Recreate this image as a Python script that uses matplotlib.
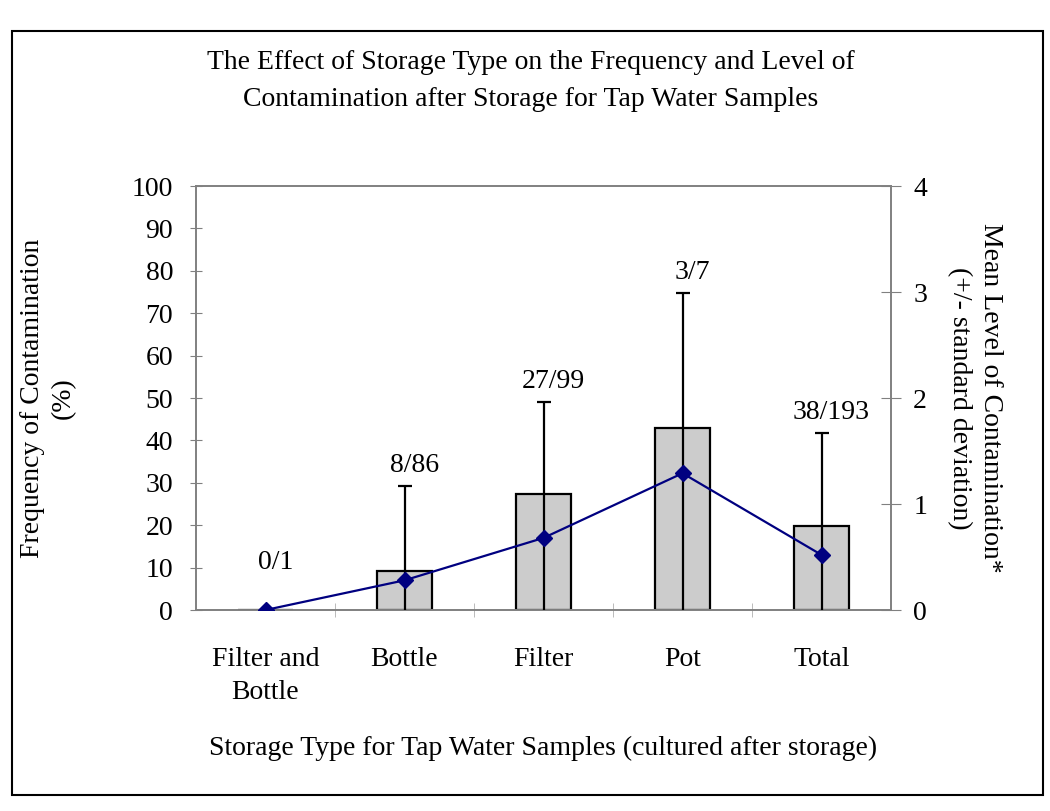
import matplotlib
matplotlib.use("Agg")
import matplotlib.pyplot as plt
from matplotlib.patches import Rectangle

plt.rcParams["font.family"] = ["Liberation Serif", "DejaVu Serif"]

# data
categories = ["Filter and\nBottle", "Bottle", "Filter", "Pot", "Total"]
frequency = [0.0, 9.3, 27.3, 42.9, 19.7]          # % contaminated (left axis)
mean_level = [0.0, 0.28, 0.68, 1.29, 0.52]        # mean level (right axis)
std_level = [0.0, 0.89, 1.28, 1.70, 1.15]         # standard deviation
counts = ["0/1", "8/86", "27/99", "3/7", "38/193"]

FS = 20
W, H = 1050, 811

fig = plt.figure(figsize=(W / 100, H / 100), dpi=100)
ax = fig.add_axes([196 / W, 1 - 610 / H, (891 - 196) / W, (610 - 186) / H])
ax2 = ax.twinx()

x = list(range(len(categories)))

# bars: frequency of contamination
ax.bar(x, frequency, width=0.4, color="#cccccc", edgecolor="black", linewidth=1.6, zorder=2)
ax.set_xlim(-0.5, len(categories) - 0.5)
ax.set_ylim(0, 100)
ax.set_yticks(range(0, 101, 10))
ax.set_xticks(x)
ax.set_xticklabels(categories, fontsize=FS, linespacing=1.4)
ax.set_xticks([i + 0.5 for i in x[:-1]], minor=True)
ax.tick_params(axis="x", which="major", length=0, pad=27)
ax.tick_params(axis="x", which="minor", direction="inout", length=10, color="#b0b0b0")
ax.tick_params(axis="y", direction="inout", length=9, color="#808080", labelsize=FS, pad=12)

# line + error bars: mean level (only where a deviation exists)
ex = [xi for xi, s in zip(x, std_level) if s > 0]
em = [m for m, s in zip(mean_level, std_level) if s > 0]
es = [s for s in std_level if s > 0]
lower = [min(m, s) for m, s in zip(em, es)]
_, caps, _ = ax2.errorbar(ex, em, yerr=[lower, es], fmt="none", ecolor="black",
                          elinewidth=1.6, capsize=5, capthick=1.6, zorder=3)
caps[0].set_visible(False)  # no cap at the clipped lower end
ax2.plot(x, mean_level, color="#000080", lw=1.6, marker="D", markersize=8, zorder=4)
ax2.set_ylim(0, 4)
ax2.set_yticks(range(0, 5))
ax2.tick_params(axis="y", direction="inout", length=14, color="#808080", labelsize=FS, pad=9)

for xi, m, s, c in zip(x, mean_level, std_level, counts):
    top = m + s
    off = 15 if top > 0 else 34
    ax2.annotate(c, (xi, top), xytext=(7, off), textcoords="offset points",
                 ha="center", va="center", fontsize=FS)

for a in (ax, ax2):
    for sp in a.spines.values():
        sp.set_color("#808080")
        sp.set_linewidth(1.2)

# title and axis labels
fig.text(531 / W, 1 - 81 / H,
         "The Effect of Storage Type on the Frequency and Level of\n"
         "Contamination after Storage for Tap Water Samples",
         ha="center", va="center", fontsize=FS, linespacing=1.6)
fig.text(543 / W, 1 - 748 / H,
         "Storage Type for Tap Water Samples (cultured after storage)",
         ha="center", va="center", fontsize=FS)
fig.text(48 / W, 1 - 398 / H, "Frequency of Contamination\n(%)",
         ha="center", va="center", rotation=90, fontsize=FS, linespacing=1.3)
fig.text(975 / W, 1 - 398 / H, "Mean Level of Contamination*\n(+/- standard deviation)",
         ha="center", va="center", rotation=270, fontsize=FS, linespacing=1.3)

# outer frame
fig.patches.append(Rectangle((12 / W, 1 - 795 / H), (1043 - 12) / W, (795 - 31) / H,
                             transform=fig.transFigure, fill=False, ec="black", lw=1.5))

fig.savefig("out.png", dpi=100, facecolor="white")
